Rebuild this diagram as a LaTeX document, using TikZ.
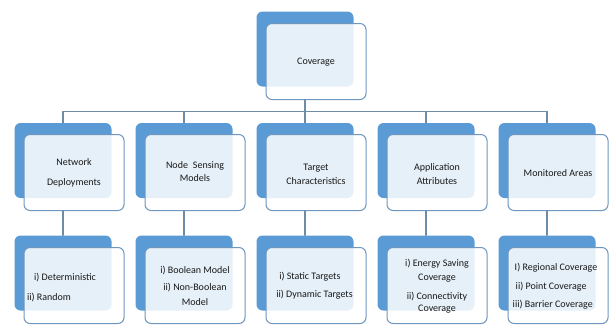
\documentclass[tikz,border=0pt]{standalone}
\usepackage{fontspec}
\setmainfont{Carlito}
\usetikzlibrary{positioning}
\definecolor{boxblue}{HTML}{5B9BD5}
\definecolor{rimblue}{HTML}{6F96BF}
\definecolor{linkgray}{HTML}{6E8CA8}
\begin{document}
\begin{tikzpicture}[x=1pt, y=-1pt, font=\fontsize{10}{12}\selectfont, line join=round, line cap=round,
	back/.style={fill=boxblue, rounded corners=6pt, minimum width=97pt, minimum height=75pt, inner sep=0pt},
	front/.style={draw=rimblue, line width=1pt, fill=white, fill opacity=0.85, rounded corners=6pt, minimum width=100pt, minimum height=76pt, inner sep=0pt},
	txt/.style={inner sep=0pt, align=center, text=black!90},
	link/.style={draw=linkgray, line width=1.2pt}]
	\useasboundingbox (0,0) rectangle (610,325);
	%%%%%%%%%%%%%%%%%%%%%%%%%%%%%%%%%
	\node[back] (cov-bk) at (305,49) {};
	\node[back] (dep-bk) at (63,160.5) {};
	\node[back] (sens-bk) at (184,160.5) {};
	\node[back] (targ-bk) at (305,160.5) {};
	\node[back] (app-bk) at (426,160.5) {};
	\node[back] (area-bk) at (547,160.5) {};
	\node[back] (dep-l-bk) at (63,273) {};
	\node[back] (sens-l-bk) at (184,273) {};
	\node[back] (targ-l-bk) at (305,273) {};
	\node[back] (app-l-bk) at (426,273) {};
	\node[back] (area-l-bk) at (547,273) {};
	%%%%%%%%%%%%%%%%%%%%%%%%%%%%%%%%%
	\node[front] (cov) at ([shift={(11,12.5)}]cov-bk.center) {};
	\node[front] (dep) at ([shift={(11,12)}]dep-bk.center) {};
	\node[front] (sens) at ([shift={(11,12)}]sens-bk.center) {};
	\node[front] (targ) at ([shift={(11,12)}]targ-bk.center) {};
	\node[front] (app) at ([shift={(11,12)}]app-bk.center) {};
	\node[front] (area) at ([shift={(11,12)}]area-bk.center) {};
	\node[front] (dep-l) at ([shift={(11,12.5)}]dep-l-bk.center) {};
	\node[front] (sens-l) at ([shift={(11,12.5)}]sens-l-bk.center) {};
	\node[front] (targ-l) at ([shift={(11,12.5)}]targ-l-bk.center) {};
	\node[front] (app-l) at ([shift={(11,12.5)}]app-l-bk.center) {};
	\node[front] (area-l) at ([shift={(11,12.5)}]area-l-bk.center) {};
	%%%%%%%%%%%%%%%%%%%%%%%%%%%%%%%%%
	\coordinate (bus) at (0,111.5);
	\draw[link] (cov-bk.center |- cov.south) -- (cov-bk.center |- bus);
	\draw[link] (dep-bk.north |- bus) -- (area-bk.north |- bus);
	\draw[link] (dep-bk.north |- bus) -- (dep-bk.north);
	\draw[link] (sens-bk.north |- bus) -- (sens-bk.north);
	\draw[link] (targ-bk.north |- bus) -- (targ-bk.north);
	\draw[link] (app-bk.north |- bus) -- (app-bk.north);
	\draw[link] (area-bk.north |- bus) -- (area-bk.north);
	\draw[link] (dep-bk.center |- dep.south) -- (dep-l-bk.north);
	\draw[link] (sens-bk.center |- sens.south) -- (sens-l-bk.north);
	\draw[link] (targ-bk.center |- targ.south) -- (targ-l-bk.north);
	\draw[link] (app-bk.center |- app.south) -- (app-l-bk.north);
	\draw[link] (area-bk.center |- area.south) -- (area-l-bk.north);
	%%%%%%%%%%%%%%%%%%%%%%%%%%%%%%%%%
	\node[txt] (cov-t) at ([yshift=-0.5pt]cov.center) {Coverage};
	\node[txt] (dep-t) at ([yshift=-0.5pt]dep.center) {Network\\[8pt]Deployments};
	\node[txt] (sens-t) at ([yshift=1pt]sens.center) {Node\enspace Sensing\\[1pt]Models};
	\node[txt] (targ-t) at ([yshift=-1.5pt]targ.center) {Target\\[2pt]Characteristics};
	\node[txt] (app-t) at ([yshift=-1.5pt]app.center) {Application\\[2pt]Attributes};
	\node[txt] (area-t) at ([yshift=-0.5pt]area.center) {Monitored Areas};
	%%%%%%%%%%%%%%%%%%%%%%%%%%%%%%%%%
	\node[txt, align=left] (dep-l-t) at ([shift={(-12.5pt,-2.5pt)}]dep-l.center) {\hspace*{7pt}i) Deterministic\\[8pt]ii) Random};
	\node[txt] (sens-l-t) at ([yshift=-0.5pt]sens-l.center) {i) Boolean Model\\[5pt]ii) Non-Boolean\\[3pt]Model};
	\node[txt, align=left] (targ-l-t) at ([shift={(-1.5pt,-0.5pt)}]targ-l.center) {\hspace*{3pt}i) Static Targets\\[6pt]ii) Dynamic Targets};
	\node[txt] (app-l-t) at ([yshift=-1pt]app-l.center) {i) Energy Saving\\[2pt]Coverage\\[7pt]ii) Connectivity\\[0pt]Coverage};
	\node[txt, align=left] (area-l-t) at ([shift={(-3pt,-1pt)}]area-l.center) {\hspace*{2pt}I) Regional Coverage\\[6.5pt]\hspace*{3pt}ii) Point Coverage\\[6.5pt]iii) Barrier Coverage};
	%%%%%%%%%%%%%%%%%%%%%%%%%%%%%%%%%
\end{tikzpicture}
\end{document}
